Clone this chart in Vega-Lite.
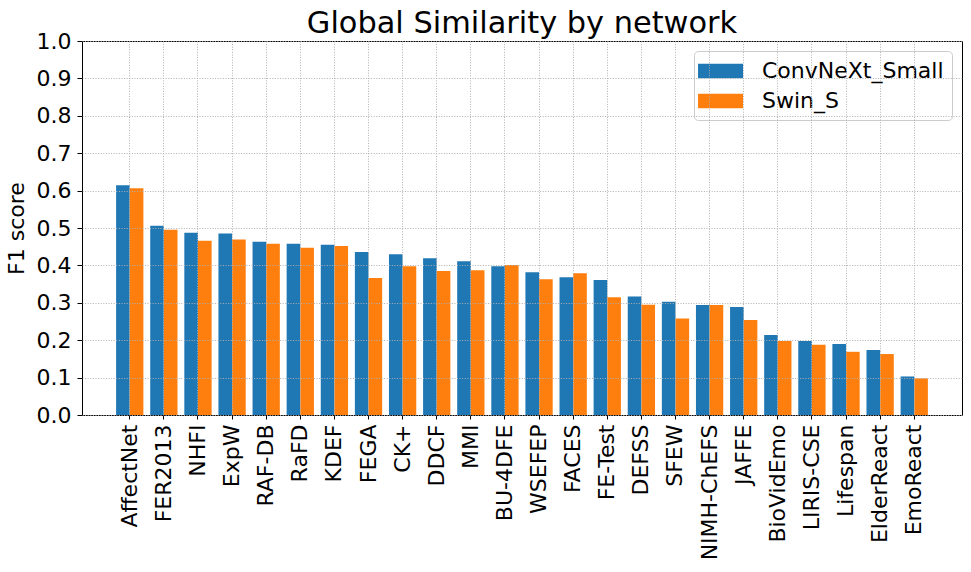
{
  "$schema": "https://vega.github.io/schema/vega-lite/v6.json",
  "autosize": {"type": "none"},
  "padding": {"left": 82, "top": 41, "right": 9, "bottom": 157},
  "width": 880,
  "height": 374,
  "background": "white",
  "title": {
    "text": "Global Similarity by network",
    "font": "DejaVu Sans",
    "fontSize": 30.4,
    "fontWeight": "normal",
    "color": "black",
    "anchor": "middle",
    "frame": "group",
    "baseline": "bottom",
    "offset": -39
  },
  "config": {
    "view": {"stroke": "black", "strokeWidth": 1},
    "font": "DejaVu Sans"
  },
  "data": {
    "values": [
      {"dataset": "AffectNet", "model": "ConvNeXt_Small", "f1": 0.614},
      {"dataset": "AffectNet", "model": "Swin_S", "f1": 0.606},
      {"dataset": "FER2013", "model": "ConvNeXt_Small", "f1": 0.506},
      {"dataset": "FER2013", "model": "Swin_S", "f1": 0.495},
      {"dataset": "NHFI", "model": "ConvNeXt_Small", "f1": 0.487},
      {"dataset": "NHFI", "model": "Swin_S", "f1": 0.466},
      {"dataset": "ExpW", "model": "ConvNeXt_Small", "f1": 0.485},
      {"dataset": "ExpW", "model": "Swin_S", "f1": 0.469},
      {"dataset": "RAF-DB", "model": "ConvNeXt_Small", "f1": 0.463},
      {"dataset": "RAF-DB", "model": "Swin_S", "f1": 0.458},
      {"dataset": "RaFD", "model": "ConvNeXt_Small", "f1": 0.458},
      {"dataset": "RaFD", "model": "Swin_S", "f1": 0.447},
      {"dataset": "KDEF", "model": "ConvNeXt_Small", "f1": 0.455},
      {"dataset": "KDEF", "model": "Swin_S", "f1": 0.452},
      {"dataset": "FEGA", "model": "ConvNeXt_Small", "f1": 0.436},
      {"dataset": "FEGA", "model": "Swin_S", "f1": 0.366},
      {"dataset": "CK+", "model": "ConvNeXt_Small", "f1": 0.430},
      {"dataset": "CK+", "model": "Swin_S", "f1": 0.398},
      {"dataset": "DDCF", "model": "ConvNeXt_Small", "f1": 0.419},
      {"dataset": "DDCF", "model": "Swin_S", "f1": 0.385},
      {"dataset": "MMI", "model": "ConvNeXt_Small", "f1": 0.411},
      {"dataset": "MMI", "model": "Swin_S", "f1": 0.387},
      {"dataset": "BU-4DFE", "model": "ConvNeXt_Small", "f1": 0.398},
      {"dataset": "BU-4DFE", "model": "Swin_S", "f1": 0.401},
      {"dataset": "WSEFEP", "model": "ConvNeXt_Small", "f1": 0.382},
      {"dataset": "WSEFEP", "model": "Swin_S", "f1": 0.363},
      {"dataset": "FACES", "model": "ConvNeXt_Small", "f1": 0.368},
      {"dataset": "FACES", "model": "Swin_S", "f1": 0.379},
      {"dataset": "FE-Test", "model": "ConvNeXt_Small", "f1": 0.361},
      {"dataset": "FE-Test", "model": "Swin_S", "f1": 0.315},
      {"dataset": "DEFSS", "model": "ConvNeXt_Small", "f1": 0.317},
      {"dataset": "DEFSS", "model": "Swin_S", "f1": 0.295},
      {"dataset": "SFEW", "model": "ConvNeXt_Small", "f1": 0.303},
      {"dataset": "SFEW", "model": "Swin_S", "f1": 0.258},
      {"dataset": "NIMH-ChEFS", "model": "ConvNeXt_Small", "f1": 0.294},
      {"dataset": "NIMH-ChEFS", "model": "Swin_S", "f1": 0.294},
      {"dataset": "JAFFE", "model": "ConvNeXt_Small", "f1": 0.289},
      {"dataset": "JAFFE", "model": "Swin_S", "f1": 0.254},
      {"dataset": "BioVidEmo", "model": "ConvNeXt_Small", "f1": 0.214},
      {"dataset": "BioVidEmo", "model": "Swin_S", "f1": 0.198},
      {"dataset": "LIRIS-CSE", "model": "ConvNeXt_Small", "f1": 0.198},
      {"dataset": "LIRIS-CSE", "model": "Swin_S", "f1": 0.188},
      {"dataset": "Lifespan", "model": "ConvNeXt_Small", "f1": 0.190},
      {"dataset": "Lifespan", "model": "Swin_S", "f1": 0.169},
      {"dataset": "ElderReact", "model": "ConvNeXt_Small", "f1": 0.174},
      {"dataset": "ElderReact", "model": "Swin_S", "f1": 0.163},
      {"dataset": "EmoReact", "model": "ConvNeXt_Small", "f1": 0.103},
      {"dataset": "EmoReact", "model": "Swin_S", "f1": 0.098}
    ]
  },
  "mark": {"type": "bar"},
  "encoding": {
    "x": {
      "field": "dataset",
      "type": "nominal",
      "sort": null,
      "scale": {"paddingInner": 0.2, "paddingOuter": 1.167},
      "axis": {
        "title": null,
        "labelAngle": -90,
        "labelAlign": "right",
        "labelBaseline": "middle",
        "labelFont": "DejaVu Sans",
        "labelFontSize": 22,
        "labelColor": "black",
        "labelPadding": 5,
        "labelLimit": 300,
        "tickSize": 4,
        "tickColor": "black",
        "domain": false,
        "bandPosition": 0.5,
        "grid": true,
        "gridColor": "#b0b0b0",
        "gridDash": [1, 1.6],
        "gridWidth": 1,
        "zindex": 1
      }
    },
    "xOffset": {"field": "model", "type": "nominal", "scale": {"paddingInner": 0}},
    "y": {
      "field": "f1",
      "type": "quantitative",
      "scale": {"domain": [0, 1], "nice": false},
      "axis": {
        "title": "F1 score",
        "titleFont": "DejaVu Sans",
        "titleFontSize": 22,
        "titleFontWeight": "normal",
        "titleColor": "black",
        "titlePadding": 8,
        "values": [0, 0.1, 0.2, 0.3, 0.4, 0.5, 0.6, 0.7, 0.8, 0.9, 1.0],
        "format": ".1f",
        "labelFont": "DejaVu Sans",
        "labelFontSize": 22,
        "labelColor": "black",
        "labelPadding": 6,
        "tickSize": 5,
        "tickColor": "black",
        "domain": false,
        "grid": true,
        "gridColor": "#b0b0b0",
        "gridDash": [1, 1.6],
        "gridWidth": 1,
        "zindex": 1
      }
    },
    "color": {
      "field": "model",
      "type": "nominal",
      "scale": {"domain": ["ConvNeXt_Small", "Swin_S"], "range": ["#1f77b4", "#ff7f0e"]},
      "legend": {
        "title": null,
        "orient": "top-right",
        "offset": 10,
        "padding": 8,
        "fillColor": "rgba(255,255,255,0.8)",
        "strokeColor": "#cccccc",
        "cornerRadius": 4,
        "labelFont": "DejaVu Sans",
        "labelFontSize": 22,
        "labelColor": "black",
        "labelOffset": 36,
        "labelLimit": 400,
        "symbolType": "M-1.33,-0.6H2.42V0.6H-1.33Z",
        "symbolSize": 576,
        "symbolStrokeWidth": 0,
        "symbolOpacity": 1,
        "rowPadding": 7
      }
    }
  }
}
